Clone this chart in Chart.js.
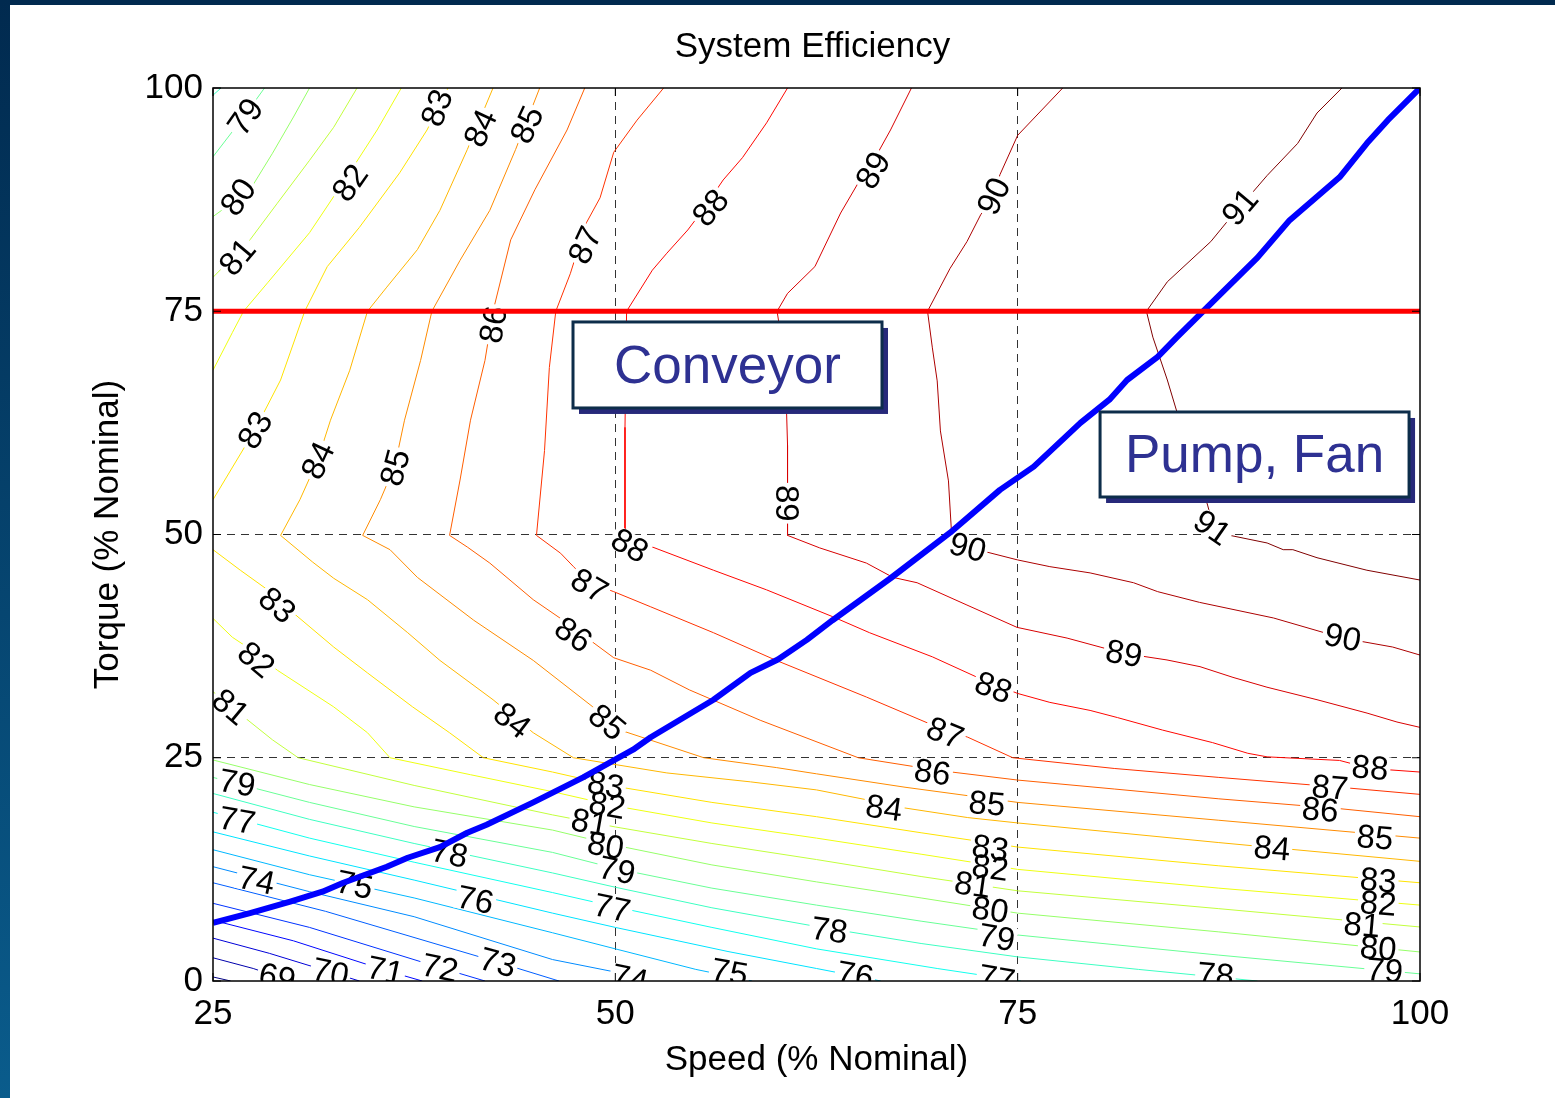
<!DOCTYPE html>
<html>
<head>
<meta charset="utf-8">
<title>System Efficiency</title>
<script src="https://cdn.jsdelivr.net/npm/chart.js@4.4.0/dist/chart.umd.min.js"></script>
<style>
  html, body { margin: 0; padding: 0; background: #fff; }
  #wrap { position: relative; width: 1555px; height: 1098px; overflow: hidden; }
  #topBand { position: absolute; left: 0; top: 0; width: 1555px; height: 5px; background: #012a4f; }
  #leftBand { position: absolute; left: 0; top: 0; width: 10px; height: 1098px; background: linear-gradient(#012a4f, #0a5c8c); }
</style>
</head>
<body>
<div id="wrap">
  <canvas id="effChart" width="1555" height="1098"></canvas>
  <div id="topBand"></div>
  <div id="leftBand"></div>
</div>
<script>
// operating lines
const conveyorSpeed = [25, 100];
const conveyorTorque = [75, 75];
const pumpSpeed = [25, 27.3, 29.8, 31.8, 33.1, 35.8, 37.1, 39.1, 40.8, 42.0, 44.9, 48.0, 51.1, 52.2, 56.1, 58.4, 60.1, 61.9, 63.5, 67.1, 70.8, 73.9, 76.0, 78.9, 80.7, 81.8, 83.7, 84.9, 86.8, 89.9, 91.9, 95.0, 96.7, 98.0, 100];
const pumpTorque = [6.5, 7.6, 8.9, 10.0, 11.0, 12.8, 13.8, 15.0, 16.6, 17.5, 20.0, 22.8, 25.9, 27.3, 31.5, 34.5, 36.0, 38.2, 40.4, 45.1, 50.2, 55.0, 57.6, 62.5, 65.1, 67.3, 69.9, 72.1, 75.5, 81.0, 85.2, 90.0, 93.8, 96.4, 100];

// efficiency contours, [speed, torque] pairs
const level68 = [[25, 0.45], [26.1, 0]];
const level69 = [[25, 2.6], [27.5, 1.4], [29.8, 0]];
const level70 = [[25, 4.8], [28.5, 3.1], [32.3, 1.0], [34.1, 0]];
const level71 = [[25, 6.8], [30, 4.5], [35.7, 1.2], [38, 0]];
const level72 = [[25, 8.7], [31, 6.0], [39.1, 1.5], [41.9, 0]];
const level73 = [[25, 11.0], [32, 7.8], [42.7, 2.1], [46.5, 0]];
const level74 = [[25, 12.8], [31, 10.0], [37.5, 7.2], [46.1, 2.4], [50, 1.0], [52, 0]];
const level75 = [[25, 14.7], [31, 11.9], [37.5, 9.3], [46.1, 5.4], [50, 3.6], [55, 1.3], [58.5, 0]];
const level76 = [[25, 16.7], [31, 14.0], [37.5, 11.3], [46.1, 7.6], [50, 6.0], [57, 3.3], [62.5, 1.4], [66.5, 0]];
const level77 = [[25, 18.9], [31, 16.0], [37.5, 13.3], [46.1, 9.9], [50, 8.3], [56, 6.0], [62.5, 3.6], [70, 1.4], [75.2, 0]];
const level78 = [[25, 21.0], [31, 18.1], [37.5, 15.4], [46.1, 12.1], [50, 10.5], [56, 8.2], [62.5, 6.1], [69, 4.2], [75, 2.7], [82.5, 1.3], [89.9, 0]];
const level78top = [[25, 99.2], [25.5, 100]];
const level79 = [[25, 22.8], [31, 20.0], [37.5, 17.3], [46.1, 14.4], [50, 12.6], [56, 10.4], [62.5, 8.5], [69, 6.7], [75, 5.15], [87.5, 2.9], [100, 0.8]];
const level79top = [[28.2, 100], [26.9, 96.75], [25, 92.3]];
const level80 = [[25, 24.75], [31, 22.0], [37.5, 19.5], [46.1, 16.9], [50, 15.2], [56, 13.0], [62.5, 11.1], [69, 9.3], [75, 7.6], [87.5, 5.5], [100, 3.25]];
const level80top = [[31.0, 100], [30.0, 96.75], [28.7, 92.7], [27.3, 88.6], [25, 85.6]];
const level81top = [[33.95, 100], [32.5, 95.6], [31.0, 91.9], [29.0, 87.1], [27.3, 83.0], [25, 78.8]];
const level81 = [[25, 32.4], [26.9, 29.6], [28.7, 27.0], [30.3, 25], [37.5, 21.9], [46.1, 18.6], [50, 17.25], [56, 15.4], [62.5, 13.6], [69, 11.7], [75, 10.1], [87.5, 8.1], [100, 6.05]];
const level82top = [[36.7, 100], [35.2, 95.3], [33.3, 90.0], [31.0, 83.8], [28.4, 78.2], [26.9, 75], [26.2, 72.6], [25, 68.4]];
const level82 = [[25, 40.6], [26.2, 38.5], [27.7, 36.7], [29.0, 34.8], [32.5, 30.7], [34.6, 27.8], [36.0, 25], [41, 23.1], [46.1, 21.2], [50, 19.6], [56, 17.7], [62.5, 16.0], [69, 14.2], [75, 12.5], [87.5, 10.4], [100, 8.5]];
const level83top = [[39.6, 100], [38.3, 95.3], [36.6, 90.5], [34.1, 84.4], [32.1, 80.0], [30.7, 75], [29.2, 67.3], [27.6, 61.7], [25, 53.9]];
const level83 = [[25, 48.3], [26.7, 46.0], [28.4, 43.8], [30.0, 41.2], [32.5, 37.4], [34.6, 34.5], [37.4, 30.7], [39.7, 27.8], [41.8, 25], [46.1, 23.4], [50, 21.8], [56, 20.0], [62.5, 18.4], [69, 16.6], [75, 15.0], [87.5, 12.9], [100, 11.0]];
const level84 = [[42.4, 100], [40.8, 93.1], [39.1, 86.3], [37.7, 81.9], [35.8, 77.7], [34.6, 75], [33.5, 68.4], [32.3, 62.8], [31.5, 58.3], [30.4, 53.9], [29.2, 49.9], [31.2, 46.9], [32.5, 45.1], [34.6, 42.7], [37.1, 39.0], [39.1, 35.9], [42.4, 31.5], [44.9, 27.8], [47.4, 25], [53.2, 23.3], [58.4, 22.3], [62.5, 21.4], [65.6, 20.3], [67.9, 19.4], [71.9, 18.3], [75, 17.7], [87.5, 15.5], [100, 13.4]];
const level85 = [[45.3, 100], [43.8, 93.1], [42.2, 86.3], [40.35, 80.7], [38.6, 75], [37.9, 69.5], [36.9, 62.8], [36.3, 57.7], [35.4, 53.9], [34.3, 49.9], [36.0, 48.3], [37.7, 45.2], [41.2, 40.4], [44.9, 35.9], [48.6, 30.7], [50.3, 28.1], [55.5, 25], [60, 23.9], [62.5, 23.2], [68, 21.7], [75, 20.0], [87.5, 18.0], [100, 16.0]];
const level86 = [[48.1, 100], [47.0, 95.3], [45.0, 88.6], [43.5, 83.0], [42.4, 75], [41.9, 69.5], [41.0, 62.8], [40.35, 56.1], [39.7, 49.9], [40.8, 48.6], [42.2, 46.8], [44.9, 42.7], [47.0, 40.1], [48.4, 38.2], [49.9, 36.2], [52.2, 34.8], [54.6, 32.6], [59.0, 29.2], [65.1, 25], [70, 23.6], [75, 22.5], [81, 21.5], [87.5, 20.4], [95, 19.3], [100, 18.4]];
const level87 = [[53.0, 100], [51.35, 96.4], [49.9, 92.8], [49.05, 87.7], [48.2, 84.9], [47.2, 79.2], [46.3, 75], [45.9, 68.7], [45.6, 59.4], [45.1, 49.9], [46.6, 47.9], [47.4, 46.4], [48.4, 44.6], [49.9, 43.6], [52.2, 41.9], [56.1, 39.0], [60.0, 35.9], [65.6, 31.8], [69.4, 28.9], [71.9, 27.3], [74.7, 25], [81, 23.8], [87.5, 22.8], [95, 21.7], [100, 20.9]];
const level88 = [[60.7, 100], [59.4, 96.1], [57.9, 92.2], [56.7, 89.7], [55.3, 86.0], [54.5, 84.1], [53.2, 81.5], [52.3, 79.6], [50.7, 75], [50.6, 62], [50.6, 49.9], [52.3, 48.6], [56.1, 46.0], [59.4, 43.8], [63.5, 40.8], [65.8, 39.0], [69.7, 36.3], [72.5, 34.0], [75.0, 32.2], [77.0, 31.2], [79.5, 30.3], [81.2, 29.5], [84.0, 28.1], [87.1, 26.7], [89.3, 25.5], [90.5, 25.1], [95.0, 24.7], [96.9, 23.8], [100, 23.4]];
const level89 = [[68.4, 100], [67.1, 95.3], [66.3, 92.7], [65.2, 89.7], [64.0, 86.0], [62.4, 80.0], [60.7, 77.0], [60.05, 75], [60.55, 69.3], [60.7, 60], [60.7, 49.9], [62.7, 48.5], [65.6, 46.8], [67.25, 45.2], [68.75, 44.6], [71.85, 42.1], [74.96, 39.6], [78.07, 38.4], [80.12, 37.4], [81.55, 36.7], [84.28, 35.95], [86.33, 35.2], [88.38, 34.0], [90.49, 32.9], [93.6, 31.5], [96.71, 30.0], [98.57, 29.0], [100, 28.4]];
const level90 = [[77.8, 100], [75.0, 94.7], [73.9, 90.3], [73.4, 87.6], [72.7, 85.8], [71.85, 82.8], [70.8, 79.8], [69.4, 75], [69.7, 70.9], [70.0, 67.2], [70.2, 61.6], [70.7, 56.0], [70.9, 49.9], [71.85, 48.6], [75.0, 47.15], [77.0, 46.4], [79.5, 45.7], [82.2, 44.6], [83.7, 43.6], [86.3, 42.4], [90.9, 40.65], [95.2, 38.4], [98.3, 37.4], [100, 36.5]];
const level91 = [[95.15, 100], [93.6, 97.2], [92.4, 93.8], [90.5, 90.2], [89.4, 87.9], [88.0, 85.0], [87.0, 82.8], [84.3, 78.3], [83.0, 75], [83.4, 72.1], [84.3, 67.3], [84.9, 63.7], [85.9, 58.5], [86.8, 53.3], [87.3, 49.9], [88.2, 49.9], [90.5, 49.05], [91.5, 48.3], [92.1, 48.3], [93.6, 47.4], [96.7, 46.0], [100, 44.9]];

// inline contour labels
const labelLevels = [79, 80, 81, 82, 83, 84, 85, 86, 87, 88, 89, 90, 91, 83, 84, 85, 89,
  88, 87, 86, 85, 84, 83, 82, 81, 90, 91, 89, 90, 88, 87,
  86, 84, 85, 83, 82, 81, 80, 79, 77, 78, 76, 75, 74,
  83, 82, 81, 80, 79, 77, 78, 76, 75, 74, 79, 77, 69, 70, 71, 72, 73,
  88, 87, 86, 85, 84, 83, 82, 81, 80, 79, 78];
const labelSpeed = [27.0, 26.55, 26.5, 33.5, 38.9, 41.6, 44.5, 42.4, 48.1, 55.9, 66.0, 73.5, 88.8, 27.6, 31.5, 36.3, 60.7,
  50.9, 48.4, 47.4, 49.5, 43.6, 29.0, 27.7, 26.1, 71.9, 87.1, 81.6, 95.2, 73.5, 70.5,
  69.7, 66.7, 73.1, 73.3, 73.3, 72.2, 73.3, 73.7, 73.7, 63.3, 64.9, 57.1, 50.9,
  49.4, 49.5, 48.4, 49.4, 50.1, 49.8, 39.7, 41.3, 33.8, 27.7, 26.5, 26.5, 29.0, 32.3, 35.7, 39.1, 42.7,
  96.9, 94.4, 93.8, 97.2, 90.8, 97.4, 97.4, 96.4, 97.4, 97.8, 87.3];
const labelTorque = [96.8, 87.8, 81.1, 89.4, 97.8, 95.5, 95.9, 73.5, 82.4, 86.6, 90.8, 87.9, 86.7, 61.7, 58.3, 57.5, 53.5,
  48.8, 44.3, 38.8, 29.0, 29.2, 42.1, 36.0, 30.7, 48.6, 50.8, 36.7, 38.5, 32.9, 27.8,
  23.4, 19.4, 19.9, 14.9, 12.7, 10.8, 8.0, 4.9, 0.3, 5.7, 0.7, 1.0, 0.3,
  22.0, 19.7, 17.8, 15.2, 12.4, 8.2, 14.3, 9.1, 10.8, 11.3, 22.2, 18.0, 0.45, 1.0, 1.2, 1.5, 2.1,
  23.9, 21.7, 19.2, 16.1, 14.9, 11.3, 8.7, 6.3, 3.7, 1.2, 0.7];
const labelAngles = [-55, -55, -50, -55, -70, -65, -65, -80, -65, -50, -60, -65, -50, -60, -65, -75, 90,
  30, 30, 35, 40, 38, 40, 40, 40, 15, 35, 10, 12, 20, 22,
  8, 8, 5, 8, 8, 8, 8, 10, 10, 8, 10, 10, 12,
  10, 10, 10, 10, 12, 12, 12, 12, 12, 12, 10, 10, 12, 12, 12, 12, 15,
  5, 5, 5, 5, 5, 5, 5, 5, 5, 5, 5];

const contourLines = [
  [68, level68], [69, level69], [70, level70], [71, level71], [72, level72], [73, level73],
  [74, level74], [75, level75], [76, level76], [77, level77], [78, level78], [78, level78top],
  [79, level79], [79, level79top], [80, level80], [80, level80top], [81, level81top], [81, level81],
  [82, level82top], [82, level82], [83, level83top], [83, level83], [84, level84], [85, level85],
  [86, level86], [87, level87], [88, level88], [89, level89], [90, level90], [91, level91]
];

const FONT = '"Liberation Sans", Arial, sans-serif';

function jet(v) {
  const t = (v - 68) / 23;
  const c = u => Math.round(255 * Math.max(0, Math.min(1, 1.5 - Math.abs(4 * t - u))));
  return 'rgb(' + c(3) + ',' + c(2) + ',' + c(1) + ')';
}

const datasets = [
  {
    label: 'Conveyor',
    data: conveyorSpeed.map((s, i) => ({ x: s, y: conveyorTorque[i] })),
    borderColor: '#ff0000', borderWidth: 5, pointRadius: 0
  },
  {
    label: 'Pump, Fan',
    data: pumpSpeed.map((s, i) => ({ x: s, y: pumpTorque[i] })),
    borderColor: '#0000ff', borderWidth: 6, pointRadius: 0, borderJoinStyle: 'round'
  }
];
contourLines.forEach(([lvl, pts]) => {
  datasets.push({
    label: String(lvl),
    data: pts.map(p => ({ x: p[0], y: p[1] })),
    borderColor: jet(lvl), borderWidth: 1, pointRadius: 0
  });
});

const gridColor = keep => ctx => keep.includes(ctx.tick.value) ? '#333' : 'rgba(0,0,0,0)';

const labelPlugin = {
  id: 'contourLabels',
  afterDatasetDraw(chart, args) {
    if (args.index !== 2) return;
    const { ctx, chartArea: a, scales } = chart;
    ctx.save();
    ctx.beginPath();
    ctx.rect(a.left, a.top, a.right - a.left, a.bottom - a.top);
    ctx.clip();
    ctx.font = '33px ' + FONT;
    ctx.textAlign = 'center';
    ctx.textBaseline = 'middle';
    const place = (i, fn) => {
      ctx.save();
      ctx.translate(scales.x.getPixelForValue(labelSpeed[i]), scales.y.getPixelForValue(labelTorque[i]));
      ctx.rotate(labelAngles[i] * Math.PI / 180);
      fn(String(labelLevels[i]));
      ctx.restore();
    };
    ctx.fillStyle = '#fff';
    labelLevels.forEach((_, i) => place(i, t => {
      const w = ctx.measureText(t).width;
      ctx.fillRect(-w / 2 - 2, -12, w + 4, 24);
    }));
    ctx.fillStyle = '#000';
    labelLevels.forEach((_, i) => place(i, t => ctx.fillText(t, 0, 2)));
    ctx.restore();
  }
};

const framePlugin = {
  id: 'frameAndBoxes',
  afterDatasetsDraw(chart) {
    const { ctx, chartArea: a, scales } = chart;
    const sx = scales.x, sy = scales.y;
    ctx.save();
    ctx.strokeStyle = '#000';
    ctx.lineWidth = 1.5;
    ctx.strokeRect(a.left, a.top, a.right - a.left, a.bottom - a.top);
    ctx.lineWidth = 1;
    sx.ticks.forEach(t => {
      const px = sx.getPixelForValue(t.value);
      ctx.beginPath();
      ctx.moveTo(px, a.bottom); ctx.lineTo(px, a.bottom - 8);
      ctx.moveTo(px, a.top); ctx.lineTo(px, a.top + 8);
      ctx.stroke();
    });
    sy.ticks.forEach(t => {
      const py = sy.getPixelForValue(t.value);
      ctx.beginPath();
      ctx.moveTo(a.left, py); ctx.lineTo(a.left + 8, py);
      ctx.moveTo(a.right, py); ctx.lineTo(a.right - 8, py);
      ctx.stroke();
    });

    // callout boxes
    const box = (x0, x1, y0, y1, text) => {
      const l = sx.getPixelForValue(x0), r = sx.getPixelForValue(x1);
      const t = sy.getPixelForValue(y0), b = sy.getPixelForValue(y1);
      ctx.fillStyle = '#27297a';
      ctx.fillRect(l + 6, t + 6, r - l, b - t);
      ctx.fillStyle = '#fff';
      ctx.fillRect(l, t, r - l, b - t);
      ctx.strokeStyle = '#0d2d4a';
      ctx.lineWidth = 3;
      ctx.strokeRect(l, t, r - l, b - t);
      ctx.fillStyle = '#2e3192';
      ctx.font = '53px ' + FONT;
      ctx.textAlign = 'center';
      ctx.textBaseline = 'middle';
      ctx.fillText(text, (l + r) / 2, (t + b) / 2 + 3);
    };
    box(47.37, 66.57, 73.8, 64.17, 'Conveyor');
    box(80.12, 99.32, 63.72, 54.2, 'Pump, Fan');

    // title
    ctx.fillStyle = '#000';
    ctx.font = '35px ' + FONT;
    ctx.textAlign = 'center';
    ctx.textBaseline = 'middle';
    ctx.fillText('System Efficiency', (a.left + a.right) / 2 - 4, 47);
    ctx.restore();
  }
};

new Chart(document.getElementById('effChart'), {
  type: 'line',
  data: { datasets: datasets },
  options: {
    responsive: false,
    animation: false,
    devicePixelRatio: 1,
    layout: { padding: { left: 80, top: 88, right: 135, bottom: 0 } },
    elements: { line: { tension: 0, fill: false } },
    plugins: { legend: { display: false }, tooltip: { enabled: false } },
    scales: {
      x: {
        type: 'linear', min: 25, max: 100,
        afterFit: s => { s.height = 117; },
        ticks: { stepSize: 25, color: '#000', padding: 12, maxRotation: 0, font: { family: FONT, size: 35 } },
        grid: { color: gridColor([50, 75]), drawTicks: false, lineWidth: 1 },
        border: { display: false, dash: [8, 6] },
        title: { display: true, text: 'Speed (% Nominal)', color: '#000', padding: 17, font: { family: FONT, size: 35 } }
      },
      y: {
        type: 'linear', min: 0, max: 100,
        afterFit: s => { s.width = 133; },
        ticks: { stepSize: 25, color: '#000', padding: 10, font: { family: FONT, size: 35 } },
        grid: { color: gridColor([25, 50, 75]), drawTicks: false, lineWidth: 1 },
        border: { display: false, dash: [8, 6] },
        title: { display: true, text: 'Torque (% Nominal)', color: '#000', padding: 7, font: { family: FONT, size: 35 } }
      }
    }
  },
  plugins: [labelPlugin, framePlugin]
});
</script>
</body>
</html>
